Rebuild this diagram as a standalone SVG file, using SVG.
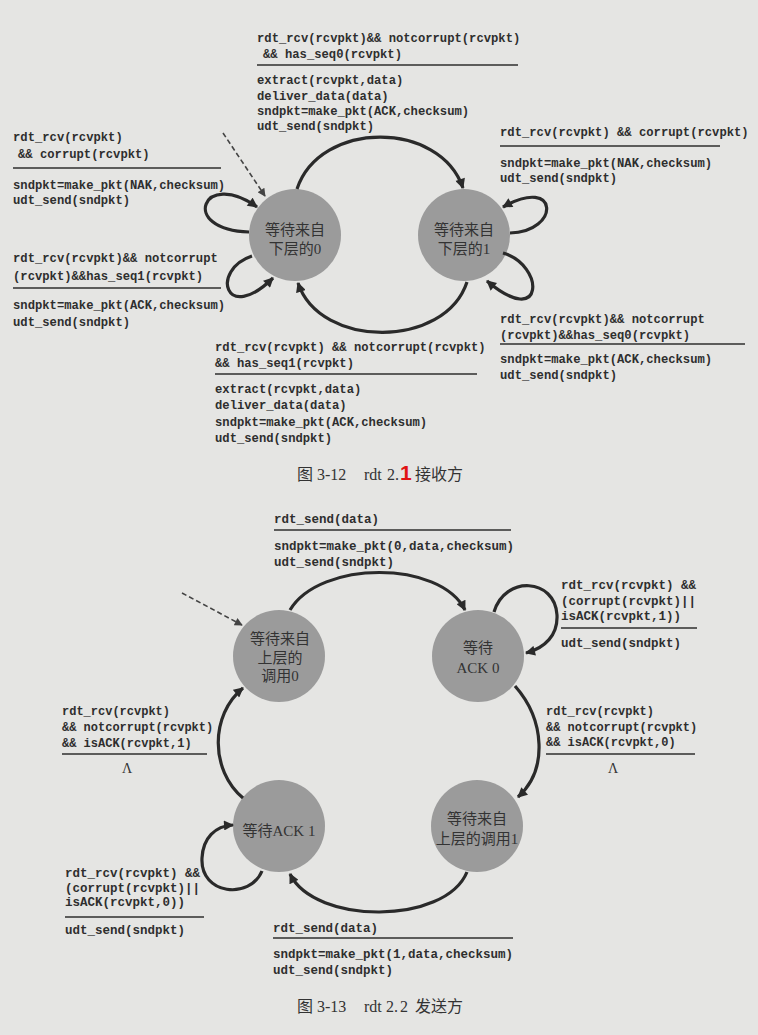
<svg xmlns="http://www.w3.org/2000/svg" width="758" height="1035" viewBox="0 0 758 1035">
<style>
.code{font-family:"Liberation Mono","DejaVu Sans Mono",monospace;font-weight:bold;font-size:12.2px;fill:#2e2e2e}
.code2{font-family:"Liberation Mono","DejaVu Sans Mono",monospace;font-weight:bold;font-size:12.5px;fill:#2e2e2e}
.code3{font-family:"Liberation Mono","DejaVu Sans Mono",monospace;font-weight:bold;font-size:12px;fill:#2e2e2e}
.state{font-family:"Liberation Serif","Noto Sans CJK SC",serif;font-size:15px;fill:#333;text-anchor:middle}
.node{fill:#9b9b9b}
.arc{fill:none;stroke:#2a2a2a;stroke-width:3.2;marker-end:url(#ah)}
.dash{fill:none;stroke:#444;stroke-width:1.6;stroke-dasharray:5,3;marker-end:url(#ahs)}
.rule{stroke:#2e2e2e;stroke-width:1.6}
.cap{font-family:"Liberation Serif","Noto Sans CJK SC",serif;font-size:16px;fill:#333}
.lam{font-family:"Liberation Serif",serif;font-size:14px;fill:#333;text-anchor:middle}
</style>
<defs>
<marker id="ah" viewBox="0 0 10 10" refX="9" refY="5" markerWidth="11" markerHeight="10" markerUnits="userSpaceOnUse" orient="auto">
<path d="M0,0 L10,5 L0,10 z" fill="#2a2a2a"/>
</marker>
<marker id="ahs" viewBox="0 0 10 10" refX="9" refY="5" markerWidth="9" markerHeight="8" markerUnits="userSpaceOnUse" orient="auto">
<path d="M0,0 L10,5 L0,10 z" fill="#444"/>
</marker>
</defs>
<rect x="0" y="0" width="758" height="1035" fill="#e5e5e3"/>

<!-- Figure 3-12 nodes -->
<g id="rcv-wait0">
<circle class="node" cx="295" cy="235" r="46"/>
<text class="state" x="295" y="235">等待来自</text>
<text class="state" x="295" y="254">下层的0</text>
</g>
<g id="rcv-wait1">
<circle class="node" cx="464" cy="235" r="46"/>
<text class="state" x="464" y="235">等待来自</text>
<text class="state" x="464" y="254">下层的1</text>
</g>

<!-- Figure 3-13 nodes -->
<g id="snd-call0">
<circle class="node" cx="279" cy="656" r="46"/>
<text class="state" x="280" y="644">等待来自</text>
<text class="state" x="280" y="663">上层的</text>
<text class="state" x="280" y="681">调用0</text>
</g>
<g id="snd-ack0">
<circle class="node" cx="478" cy="656" r="46"/>
<text class="state" x="478" y="653">等待</text>
<text class="state" x="478" y="673">ACK 0</text>
</g>
<g id="snd-ack1">
<circle class="node" cx="279" cy="826" r="46"/>
<text class="state" x="279" y="836">等待ACK 1</text>
</g>
<g id="snd-call1">
<circle class="node" cx="477" cy="826" r="46"/>
<text class="state" x="477" y="824">等待来自</text>
<text class="state" x="477" y="844">上层的调用1</text>
</g>

<g id="connectors">
<!-- 3-12 -->
<path class="dash" d="M223,133 L265,196"/>
<path class="arc" d="M297,189 C320,120 440,120 463,188"/>
<path class="arc" d="M467,282 C445,349 320,349 298,283"/>
<path class="arc" d="M249,232 C178,230 203,168 257,207"/>
<path class="arc" d="M252,256 C210,270 225,325 273,278"/>
<path class="arc" d="M510,233 C560,232 560,175 503,207"/>
<path class="arc" d="M503,253 C545,265 545,330 487,281"/>
<!-- 3-13 -->
<path class="dash" d="M182,593 L242,625"/>
<path class="arc" d="M290,610 C320,560 440,560 465,610"/>
<path class="arc" d="M494,612 C505,575 555,578 557,615 C558,635 545,648 526,653"/>
<path class="arc" d="M515,686 C545,720 548,770 518,797"/>
<path class="arc" d="M467,872 C445,925 315,925 290,874"/>
<path class="arc" d="M243,798 C210,770 210,715 243,688"/>
<path class="arc" d="M262,871 C250,900 200,895 202,858 C203,838 215,826 233,825"/>
</g>

<g id="labels">
<!-- 3-12 top -->
<text class="code" x="257" y="42">rdt_rcv(rcvpkt)&amp;&amp; notcorrupt(rcvpkt)</text>
<text class="code" x="263" y="58">&amp;&amp; has_seq0(rcvpkt)</text>
<line class="rule" x1="257" y1="65" x2="518" y2="65"/>
<text class="code" x="257" y="84">extract(rcvpkt,data)</text>
<text class="code" x="257" y="100">deliver_data(data)</text>
<text class="code" x="257" y="115">sndpkt=make_pkt(ACK,checksum)</text>
<text class="code" x="257" y="130">udt_send(sndpkt)</text>
<!-- left 1 -->
<text class="code" x="13" y="141">rdt_rcv(rcvpkt)</text>
<text class="code" x="18" y="158">&amp;&amp; corrupt(rcvpkt)</text>
<line class="rule" x1="13" y1="168" x2="221" y2="168"/>
<text class="code" x="13" y="189">sndpkt=make_pkt(NAK,checksum)</text>
<text class="code" x="13" y="204">udt_send(sndpkt)</text>
<!-- left 2 -->
<text class="code" x="13" y="262">rdt_rcv(rcvpkt)&amp;&amp; notcorrupt</text>
<text class="code" x="13" y="280">(rcvpkt)&amp;&amp;has_seq1(rcvpkt)</text>
<line class="rule" x1="13" y1="288" x2="221" y2="288"/>
<text class="code" x="13" y="309">sndpkt=make_pkt(ACK,checksum)</text>
<text class="code" x="13" y="326">udt_send(sndpkt)</text>
<!-- right 1 -->
<text class="code" x="500" y="136">rdt_rcv(rcvpkt) &amp;&amp; corrupt(rcvpkt)</text>
<line class="rule" x1="500" y1="146" x2="720" y2="146"/>
<text class="code" x="500" y="167">sndpkt=make_pkt(NAK,checksum)</text>
<text class="code" x="500" y="182">udt_send(sndpkt)</text>
<!-- right 2 -->
<text class="code" x="500" y="323">rdt_rcv(rcvpkt)&amp;&amp; notcorrupt</text>
<text class="code" x="500" y="339">(rcvpkt)&amp;&amp;has_seq0(rcvpkt)</text>
<line class="rule" x1="500" y1="344" x2="745" y2="344"/>
<text class="code" x="500" y="363">sndpkt=make_pkt(ACK,checksum)</text>
<text class="code" x="500" y="379">udt_send(sndpkt)</text>
<!-- bottom -->
<text class="code" x="215" y="351">rdt_rcv(rcvpkt) &amp;&amp; notcorrupt(rcvpkt)</text>
<text class="code" x="215" y="367">&amp;&amp; has_seq1(rcvpkt)</text>
<line class="rule" x1="215" y1="374" x2="477" y2="374"/>
<text class="code" x="215" y="393">extract(rcvpkt,data)</text>
<text class="code" x="215" y="409">deliver_data(data)</text>
<text class="code" x="215" y="426">sndpkt=make_pkt(ACK,checksum)</text>
<text class="code" x="215" y="442">udt_send(sndpkt)</text>
<text class="cap" y="480"><tspan x="297">图</tspan><tspan x="317">3-12</tspan><tspan x="364">rdt</tspan><tspan x="387">2.</tspan><tspan x="400" font-family="Liberation Sans, sans-serif" font-weight="bold" font-size="21" fill="#e01414">1</tspan><tspan x="415">接收方</tspan></text>

<!-- 3-13 top -->
<text class="code2" x="274" y="523">rdt_send(data)</text>
<line class="rule" x1="274" y1="530" x2="511" y2="530"/>
<text class="code2" x="274" y="550">sndpkt=make_pkt(0,data,checksum)</text>
<text class="code2" x="274" y="566">udt_send(sndpkt)</text>
<!-- right ack0 loop -->
<text class="code2" x="561" y="589">rdt_rcv(rcvpkt) &amp;&amp;</text>
<text class="code2" x="561" y="605">(corrupt(rcvpkt)||</text>
<text class="code2" x="561" y="620">isACK(rcvpkt,1))</text>
<line class="rule" x1="561" y1="628" x2="697" y2="628"/>
<text class="code2" x="561" y="647">udt_send(sndpkt)</text>
<!-- right ack0 -> call1 -->
<text class="code3" x="546" y="715">rdt_rcv(rcvpkt)</text>
<text class="code3" x="546" y="731">&amp;&amp; notcorrupt(rcvpkt)</text>
<text class="code3" x="546" y="746">&amp;&amp; isACK(rcvpkt,0)</text>
<line class="rule" x1="546" y1="754" x2="695" y2="754"/>
<text class="lam" x="613" y="773">Λ</text>
<!-- left ack1 -> call0 -->
<text class="code3" x="62" y="715">rdt_rcv(rcvpkt)</text>
<text class="code3" x="62" y="731">&amp;&amp; notcorrupt(rcvpkt)</text>
<text class="code3" x="62" y="747">&amp;&amp; isACK(rcvpkt,1)</text>
<line class="rule" x1="62" y1="754" x2="207" y2="754"/>
<text class="lam" x="127" y="773">Λ</text>
<!-- bottom-left ack1 loop -->
<text class="code2" x="65" y="877">rdt_rcv(rcvpkt) &amp;&amp;</text>
<text class="code2" x="65" y="892">(corrupt(rcvpkt)||</text>
<text class="code2" x="65" y="906">isACK(rcvpkt,0))</text>
<line class="rule" x1="65" y1="917" x2="204" y2="917"/>
<text class="code2" x="65" y="934">udt_send(sndpkt)</text>
<!-- bottom call1 -> ack1 -->
<text class="code2" x="273" y="932">rdt_send(data)</text>
<line class="rule" x1="273" y1="938" x2="513" y2="938"/>
<text class="code2" x="273" y="958">sndpkt=make_pkt(1,data,checksum)</text>
<text class="code2" x="273" y="974">udt_send(sndpkt)</text>
<text class="cap" y="1012"><tspan x="297">图</tspan><tspan x="317">3-13</tspan><tspan x="364">rdt</tspan><tspan x="386">2.</tspan><tspan x="400">2</tspan><tspan x="415">发送方</tspan></text>
</g>
</svg>
